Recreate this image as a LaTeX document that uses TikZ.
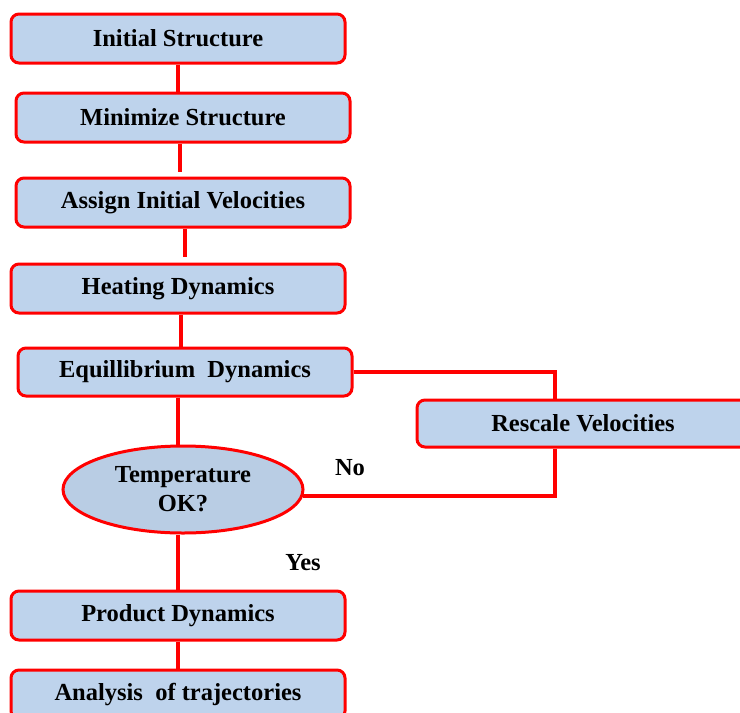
\documentclass[tikz,border=0pt]{standalone}
\usepackage{fontspec}
\setmainfont{Liberation Serif}
\usetikzlibrary{shapes.geometric}
\definecolor{boxfill}{RGB}{190,211,236}
\definecolor{ellfill}{RGB}{185,205,228}
\definecolor{linered}{RGB}{255,0,0}
\begin{document}
\begin{tikzpicture}[x=1pt,y=-1pt,
  txt/.style={font=\fontsize{24.5}{29}\selectfont\bfseries},
  stepbox/.style={txt, draw=linered, line width=3pt, fill=boxfill, rounded corners=8pt,
    minimum width=334pt, minimum height=49pt, inner sep=0pt},
  decision/.style={txt, ellipse, draw=linered, line width=3pt, fill=ellfill,
    minimum width=240pt, minimum height=87pt, inner sep=0pt, align=center},
  conn/.style={draw=linered, line width=3.6pt},
  lbl/.style={txt, inner sep=0pt}]
\useasboundingbox (0,0) rectangle (740,713);
\clip (0,0) rectangle (740,713);
\node[stepbox] (b1) at (178,38.5) {Initial Structure};
\node[stepbox] (b2) at (183,117.5) {Minimize Structure};
\node[stepbox] (b3) at (183,202.5) {Assign Initial Velocities};
\node[stepbox] (b4) at (178,288.5) {Heating Dynamics};
\node[stepbox, minimum height=48pt] (b5) at (185,372) {Equillibrium\ \ Dynamics};
\node[decision] (ell) at (183,489.5) {Temperature\\OK?};
\node[stepbox, minimum width=332pt, minimum height=47pt] (rs) at (583,423.5) {Rescale Velocities};
\node[stepbox] (b6) at (178,615.5) {Product Dynamics};
\node[stepbox] (b7) at (178,694.5) {Analysis\ \ of trajectories};
\node[lbl] (no) at (350,468) {No};
\node[lbl] (yes) at (303,563) {Yes};
\draw[conn] (b1.south) -- (b1.south |- b2.north);
\draw[conn, shorten >=5pt] ([xshift=-3pt]b2.south) -- ([xshift=-3pt]b2.south |- b3.north);
\draw[conn, shorten >=6pt] ([xshift=2pt]b3.south) -- ([xshift=2pt]b3.south |- b4.north);
\draw[conn] ([xshift=3pt]b4.south) -- ([xshift=3pt]b4.south |- b5.north);
\draw[conn] ([xshift=-7pt]b5.south) -- ([xshift=-7pt]b5.south |- ell.north);
\draw[conn] (b5.east) -| ([xshift=-28pt]rs.north);
\draw[conn] ([xshift=-28pt]rs.south) |- (ell.-3);
\draw[conn] ([xshift=-5pt]ell.south) -- ([xshift=-5pt]ell.south |- b6.north);
\draw[conn] (b6.south) -- (b6.south |- b7.north);
\end{tikzpicture}
\end{document}
